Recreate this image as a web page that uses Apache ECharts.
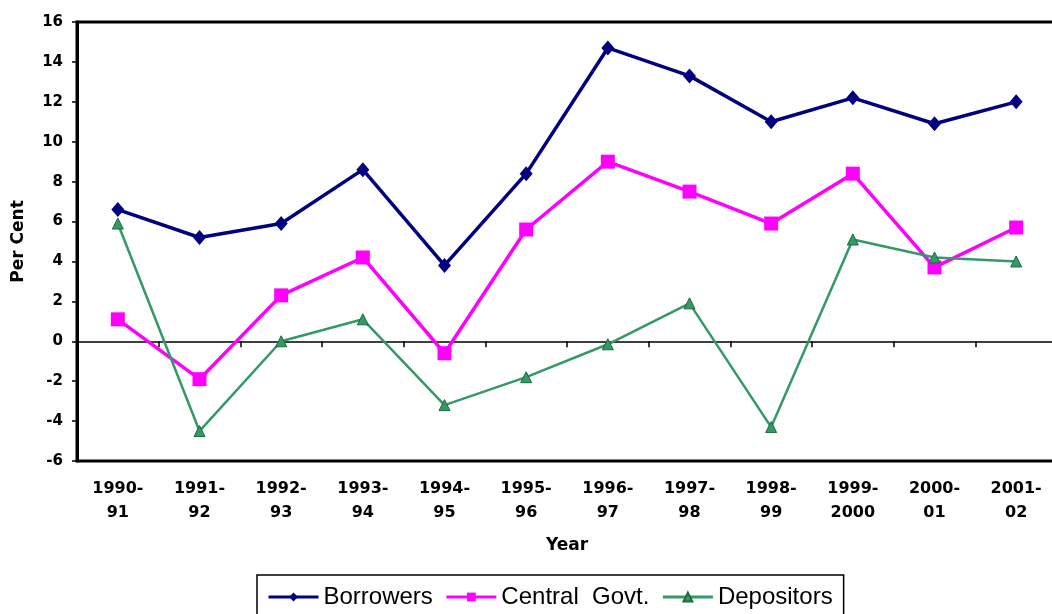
<html>
<head>
    <meta charset="UTF-8">
    <title>Per Cent by Year</title>
    <script src="https://cdn.jsdelivr.net/npm/echarts@6/dist/echarts.min.js"></script>
    <style>
        body { margin: 0; padding: 0; background: #fff; }
        #echart { width: 1052px; height: 614px; }
    </style>
</head>
<body>
<div id="echart"></div>
<script>
    const years = ['1990-\n91', '1991-\n92', '1992-\n93', '1993-\n94', '1994-\n95', '1995-\n96',
        '1996-\n97', '1997-\n98', '1998-\n99', '1999-\n2000', '2000-\n01', '2001-\n02'];
    const borrowers = [6.6, 5.2, 5.9, 8.6, 3.8, 8.4, 14.7, 13.3, 11.0, 12.2, 10.9, 12.0];
    const centralGovt = [1.1, -1.9, 2.3, 4.2, -0.6, 5.6, 9.0, 7.5, 5.9, 8.4, 3.7, 5.7];
    const depositors = [5.9, -4.5, 0.0, 1.1, -3.2, -1.8, -0.15, 1.9, -4.3, 5.1, 4.2, 4.0];

    const boldFont = 'DejaVu Sans';

    let ec = echarts.init(document.getElementById('echart'));
    let option = {
        backgroundColor: '#fff',
        animation: false,
        grid: {
            left: 77, top: 22, right: -5, bottom: 153,
            outerBoundsMode: 'none',
            show: true, borderColor: '#000', borderWidth: 3
        },
        legend: {
            left: 257, top: 575,
            padding: [10, 11, 10, 10],
            itemGap: 12, itemWidth: 50, itemHeight: 11,
            borderColor: '#000', borderWidth: 1.5,
            lineStyle: { width: 3 },
            textStyle: { fontFamily: 'Liberation Sans', fontSize: 24, color: '#000' },
            data: ['Borrowers', 'Central  Govt.', 'Depositors']
        },
        xAxis: [
            {
                type: 'category',
                data: years,
                position: 'bottom',
                name: 'Year',
                nameLocation: 'middle',
                nameGap: 76,
                nameTextStyle: { fontFamily: boldFont, fontWeight: 'bold', fontSize: 17, color: '#000' },
                axisLine: { show: false, onZero: false },
                axisTick: { show: false },
                axisLabel: {
                    margin: 16, fontFamily: boldFont, fontWeight: 'bold', fontSize: 16,
                    lineHeight: 24, color: '#000', interval: 0
                }
            },
            {
                // zero line with small ticks between categories
                type: 'category',
                data: years,
                position: 'top',
                axisLine: { show: true, onZero: true, lineStyle: { color: '#000', width: 1.5 } },
                axisTick: { show: true, inside: true, interval: 0, length: 6, lineStyle: { color: '#000', width: 1.5 } },
                axisLabel: { show: false }
            }
        ],
        yAxis: {
            type: 'value',
            min: -6, max: 16, interval: 2,
            name: 'Per Cent',
            nameLocation: 'middle',
            nameRotate: 90,
            nameGap: 50,
            nameTextStyle: { fontFamily: boldFont, fontWeight: 'bold', fontSize: 17, color: '#000' },
            axisLine: { show: true, lineStyle: { color: '#000', width: 3 } },
            axisTick: { show: true, length: 5, lineStyle: { color: '#000', width: 1.5 } },
            splitLine: { show: false },
            axisLabel: { margin: 14, fontFamily: boldFont, fontWeight: 'bold', fontSize: 15, color: '#000' }
        },
        series: [
            {
                name: 'Borrowers', type: 'line', data: borrowers,
                symbol: 'diamond', symbolSize: [13, 15],
                lineStyle: { color: '#000080', width: 3.5 },
                itemStyle: { color: '#000080' },
                emphasis: { disabled: true }, z: 3
            },
            {
                name: 'Central  Govt.', type: 'line', data: centralGovt,
                symbol: 'rect', symbolSize: 14,
                lineStyle: { color: '#ff00ff', width: 3.5 },
                itemStyle: { color: '#ff00ff' },
                emphasis: { disabled: true }, z: 2
            },
            {
                name: 'Depositors', type: 'line', data: depositors,
                symbol: 'triangle', symbolSize: 11,
                lineStyle: { color: '#339966', width: 2.5 },
                itemStyle: { color: '#339966', borderColor: '#1b6b3c', borderWidth: 1 },
                emphasis: { disabled: true }, z: 4
            }
        ]
    };
    ec.setOption(option);
</script>
</body>
</html>
